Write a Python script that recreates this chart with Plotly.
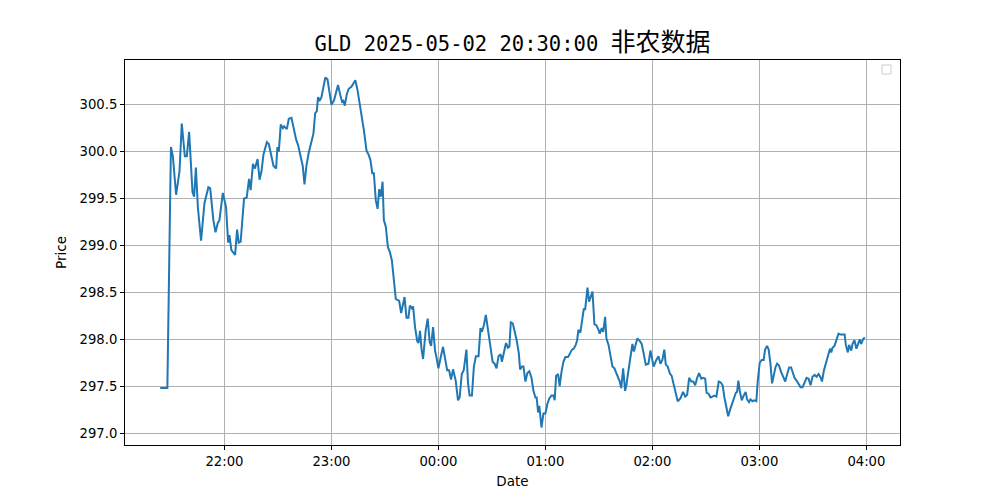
import pandas as pd
import plotly.graph_objects as go

# minutes after 2025-05-02 22:00
minutes = [
    -36.0, -32.0, -30.0, -28.9, -27.1, -25.2, -23.9, -22.2, -21.1, -19.8, -17.9, -17.0, -16.0, -14.9, -13.1,
    -11.2, -9.0, -8.0, -6.2, -5.0, -3.7, -2.8, -0.9, 0.9, 2.1, 2.8, 3.9, 6.0, 7.1, 8.0, 9.1, 11.0, 12.5,
    13.8, 14.7, 16.0, 17.1, 18.6, 19.7, 20.8, 21.9, 23.8, 24.9, 26.4, 27.5, 29.0, 29.7, 30.5, 31.6, 32.8,
    33.5, 35.0, 36.1, 37.6, 39.1, 40.2, 41.3, 42.8, 43.9, 44.9, 46.0, 47.3, 48.8, 49.9, 50.9, 51.8, 52.5,
    53.3, 54.4, 55.5, 56.6, 57.8, 58.9, 60.0, 61.5, 62.6, 63.7, 64.9, 66.0, 66.7, 67.5, 68.6, 69.7, 71.2,
    72.3, 73.4, 74.6, 75.7, 76.8, 78.2, 79.7, 80.8, 81.9, 82.9, 83.8, 84.9, 85.9, 86.8, 87.7, 88.7, 89.4,
    90.5, 91.7, 92.8, 93.9, 94.6, 95.4, 96.1, 98.0, 99.1, 101.0, 102.1, 103.2, 104.0, 105.1, 105.8, 106.9,
    108.1, 108.8, 109.7, 110.5, 111.4, 112.9, 114.0, 115.1, 115.9, 117.0, 118.1, 118.9, 120.0, 121.1,
    122.6, 123.7, 124.9, 126.0, 127.1, 128.2, 129.7, 131.0, 131.9, 133.1, 134.2, 135.7, 136.6, 137.5,
    138.8, 139.9, 141.0, 142.5, 143.6, 144.4, 145.5, 146.6, 147.8, 148.9, 150.4, 151.5, 152.6, 153.7,
    154.9, 155.6, 156.7, 157.9, 159.0, 159.8, 160.6, 161.7, 162.8, 163.9, 165.1, 165.8, 166.9, 167.7,
    168.8, 169.9, 171.0, 172.2, 173.3, 174.4, 175.1, 175.9, 176.6, 177.8, 178.9, 180.0, 181.1, 182.2,
    183.4, 184.5, 185.2, 186.0, 187.1, 188.0, 189.0, 190.1, 191.2, 192.7, 193.8, 194.9, 195.9, 197.0,
    197.8, 198.5, 199.6, 200.4, 201.5, 202.3, 203.6, 204.5, 205.7, 206.4, 207.5, 208.6, 209.8, 210.5,
    211.6, 212.4, 213.5, 214.2, 215.4, 216.5, 217.6, 218.7, 219.9, 221.0, 221.7, 222.5, 223.6, 224.7,
    225.4, 226.6, 227.7, 228.8, 229.6, 230.7, 231.6, 233.0, 234.0, 235.1, 236.3, 237.8, 238.9, 239.6,
    240.7, 242.2, 243.4, 244.5, 245.6, 246.7, 247.5, 248.6, 249.7, 250.8, 252.0, 252.9, 254.2, 255.7,
    257.2, 258.4, 259.5, 260.6, 261.8, 262.9, 264.0, 265.1, 266.2, 267.4, 268.5, 269.6, 270.4, 271.5,
    272.6, 273.7, 274.8, 275.9, 277.2, 278.3, 279.4, 280.4, 281.6, 282.5, 283.4, 284.5, 285.6, 286.8,
    287.5, 288.2, 289.0, 290.1, 291.2, 292.3, 293.1, 294.2, 295.0, 296.1, 297.2, 298.3, 299.1, 300.2,
    301.3, 302.4, 303.2, 304.3, 305.2, 306.2, 307.1, 308.0, 309.0, 309.9, 311.0, 312.2, 313.4, 314.5,
    315.6, 316.7, 317.8, 318.9, 319.7, 320.8, 321.9, 323.1, 324.2, 325.4, 326.5, 327.6, 328.7, 329.8,
    331.0, 332.1, 333.2, 334.4, 335.1, 336.2, 337.4, 338.5, 339.6, 340.3, 341.0, 342.1, 343.2, 344.4,
    345.5, 346.6, 347.8, 348.5, 349.6, 350.3, 351.5, 352.2, 353.3, 354.4, 355.6, 356.3, 357.1, 358.1, 359.1,
]

prices = [
    297.48, 297.48, 300.05, 299.95, 299.54, 299.79, 300.30, 299.95, 299.95, 300.21, 299.57, 299.52, 299.83, 299.41, 299.05,
    299.45, 299.62, 299.61, 299.27, 299.14, 299.24, 299.27, 299.56, 299.41, 299.03, 299.11, 298.95, 298.90, 299.17, 299.03, 299.04, 299.50, 299.51,
    299.71, 299.59, 299.87, 299.82, 299.92, 299.70, 299.79, 299.97, 300.10, 300.08, 299.93, 299.85, 299.82, 300.05, 300.00, 300.29, 300.25,
    300.27, 300.24, 300.35, 300.36, 300.21, 300.13, 300.07, 299.93, 299.85, 299.65, 299.85, 299.99, 300.10, 300.19, 300.41, 300.43, 300.58,
    300.54, 300.58, 300.70, 300.79, 300.77, 300.64, 300.50, 300.55, 300.62, 300.71, 300.61, 300.53, 300.54, 300.49, 300.61, 300.67, 300.69,
    300.72, 300.76, 300.66, 300.53, 300.44, 300.23, 300.01, 299.97, 299.91, 299.77, 299.77, 299.48, 299.39, 299.60, 299.52, 299.68, 299.27,
    299.20, 298.98, 298.93, 298.84, 298.73, 298.56, 298.43, 298.41, 298.28, 298.45, 298.23, 298.23, 298.36, 298.33, 298.35, 298.13,
    297.98, 297.96, 298.09, 297.90, 297.79, 298.10, 298.22, 297.97, 297.93, 298.13, 297.88, 297.81, 297.69, 297.79,
    297.92, 297.80, 297.67, 297.67, 297.57, 297.68, 297.56, 297.35, 297.38, 297.63, 297.67, 297.89, 297.53, 297.40,
    297.40, 297.71, 297.82, 297.82, 298.12, 298.08, 298.15, 298.26, 298.10, 297.98, 297.76, 297.74, 297.69, 297.82,
    297.84, 297.76, 297.87, 297.96, 297.91, 297.92, 298.18, 298.17, 298.08, 297.99, 297.85, 297.68, 297.71, 297.71,
    297.55, 297.64, 297.66, 297.59, 297.45, 297.38, 297.38, 297.22, 297.29, 297.06, 297.21, 297.21, 297.31, 297.37,
    297.40, 297.40, 297.35, 297.61, 297.63, 297.50, 297.65, 297.76, 297.81, 297.81, 297.85, 297.89, 297.90, 297.94,
    297.99, 298.10, 298.07, 298.17, 298.32, 298.32, 298.55, 298.40, 298.48, 298.51, 298.16, 298.15, 298.10, 298.06,
    298.12, 298.08, 298.24, 298.01, 297.94, 297.81, 297.71, 297.69, 297.63, 297.57, 297.55, 297.48, 297.69, 297.45,
    297.51, 297.67, 297.83, 297.95, 297.87, 297.95, 298.01, 297.98, 297.95, 297.85, 297.73, 297.74, 297.88, 297.81,
    297.71, 297.78, 297.82, 297.74, 297.78, 297.89, 297.73, 297.71, 297.64, 297.61, 297.52, 297.43, 297.34, 297.37,
    297.44, 297.39, 297.41, 297.59, 297.55, 297.55, 297.51, 297.59, 297.64, 297.58, 297.59, 297.58, 297.43, 297.42,
    297.38, 297.39, 297.40, 297.39, 297.55, 297.54, 297.51, 297.38, 297.28, 297.18, 297.24, 297.31, 297.36, 297.43,
    297.44, 297.56, 297.45, 297.35, 297.40, 297.44, 297.36, 297.33, 297.36, 297.34, 297.35, 297.34, 297.56, 297.75,
    297.78, 297.78, 297.89, 297.93, 297.89, 297.74, 297.53, 297.63, 297.70, 297.74, 297.72, 297.65, 297.60, 297.55,
    297.63, 297.70, 297.70, 297.64, 297.59, 297.56, 297.53, 297.49, 297.49, 297.54, 297.59, 297.58, 297.51, 297.60,
    297.62, 297.60, 297.63, 297.59, 297.55, 297.67, 297.76, 297.82, 297.90, 297.86, 297.91, 297.93, 298.00, 298.06,
    298.05, 298.05, 298.05, 297.94, 297.86, 297.94, 297.88, 297.95, 297.99, 297.90, 297.96, 298.00, 297.95, 298.00, 298.02,
]

tick_labels = ["22:00", "23:00", "00:00", "01:00", "02:00", "03:00", "04:00"]
title_text = "GLD 2025-05-02 20:30:00 "
title_cn = "非农数据"

base = pd.Timestamp("2025-05-02 22:00")
times = [base + pd.Timedelta(minutes=m) for m in minutes]
tick_vals = [base + pd.Timedelta(hours=i) for i in range(len(tick_labels))]

tmin, tmax = min(minutes), max(minutes)
tpad = (tmax - tmin) * 0.05
x_range = [base + pd.Timedelta(minutes=tmin - tpad), base + pd.Timedelta(minutes=tmax + tpad)]
ymin, ymax = min(prices), max(prices)
ypad = (ymax - ymin) * 0.05
y_range = [ymin - ypad, ymax + ypad]

fig = go.Figure()
fig.add_trace(go.Scatter(x=times, y=prices, mode="lines",
                         line=dict(color="#1f77b4", width=2), showlegend=False))

axis_common = dict(
    showline=True, mirror=True, linecolor="black", linewidth=1,
    ticks="outside", ticklen=4, tickwidth=1, tickcolor="black",
    showgrid=True, gridcolor="#b0b0b0", gridwidth=1, zeroline=False,
    tickfont=dict(family="DejaVu Sans", size=13.2, color="black"),
)

fig.update_layout(
    width=1000, height=500,
    margin=dict(l=125, r=100, t=60, b=55),
    paper_bgcolor="white", plot_bgcolor="white",
    title=dict(
        text=title_text + "<span style=\"font-family:'Noto Sans CJK SC';font-size:25px\">" + title_cn + "</span>",
        x=0.5125, xanchor="center", y=0.912, yanchor="middle",
        font=dict(family="DejaVu Sans Mono, Noto Sans CJK SC", size=20.5, color="black"),
    ),
    xaxis=dict(range=x_range, tickvals=tick_vals, ticktext=tick_labels,
               title=dict(text="Date", font=dict(family="DejaVu Sans", size=13.5, color="black"), standoff=8),
               **axis_common),
    yaxis=dict(range=y_range, dtick=0.5, tickformat=".1f",
               title=dict(text="Price", font=dict(family="DejaVu Sans", size=13.5, color="black"), standoff=9),
               **axis_common),
    shapes=[dict(type="rect", xref="paper", yref="paper", xsizemode="pixel", ysizemode="pixel",
                 xanchor=1, yanchor=1, x0=-18, x1=-9, y0=-14, y1=-5,
                 line=dict(color="#cccccc", width=1), fillcolor="white")],
)

fig.write_html("out.html")
